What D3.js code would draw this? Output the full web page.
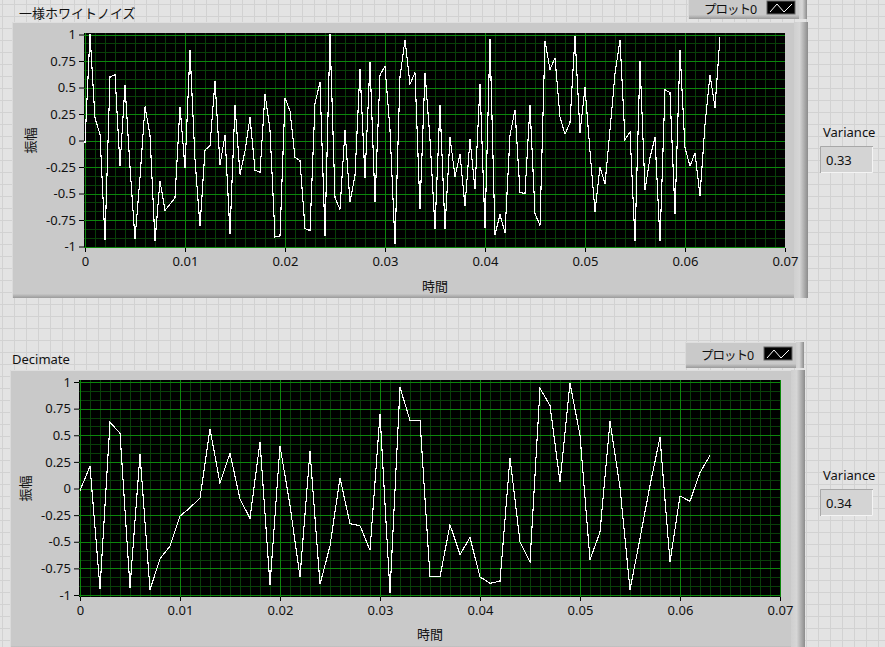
<!DOCTYPE html>
<html><head><meta charset="utf-8">
<script src="https://cdn.jsdelivr.net/npm/d3@7/dist/d3.min.js"></script>
<style>
html,body{margin:0;padding:0;background:#e2e2e2;}
svg{display:block;}
text{font-family:"Noto Sans","Noto Sans CJK JP",sans-serif;}
</style></head>
<body>
<svg id="c" width="885" height="647"></svg>
<script>
// ---- data ----
const noiseTitle = "一様ホワイトノイズ";
const decimTitle = "Decimate";
const legendLabel = "プロット0";
const xAxisTitle = "時間";
const yAxisTitle = "振幅";
const noiseDt = 0.0005;
const decimDt = 0.001;
const noiseValues = [
 -0.02, 1.00, 0.21, 0.06, -0.94, 0.60, 0.62, -0.24, 0.52, -0.25,
 -0.93, -0.35, 0.32, 0.05, -0.95, -0.38, -0.66, -0.60, -0.54, 0.32,
 -0.26, 0.85, -0.18, -0.81, -0.09, -0.05, 0.56, -0.23, 0.05, -0.88,
 0.33, -0.32, -0.10, 0.22, -0.28, -0.30, 0.44, 0.10, -0.91, -0.90,
 0.40, 0.28, -0.16, -0.19, -0.83, -0.85, 0.35, 0.55, -0.90, 1.00,
 -0.54, -0.65, 0.10, -0.58, -0.33, 0.67, -0.35, 0.74, -0.58, 0.62,
 0.70, 0.10, -0.98, 0.60, 0.95, 0.53, 0.64, -0.65, 0.64, 0.01,
 -0.83, 0.33, -0.83, 0.03, -0.34, -0.13, -0.62, 0.01, -0.46, 0.53,
 -0.83, 0.96, -0.89, -0.70, -0.87, 0.05, 0.29, -0.49, -0.50, 0.33,
 -0.69, -0.80, 0.94, 0.67, 0.78, 0.22, 0.06, 0.17, 0.99, 0.07,
 0.50, -0.10, -0.67, -0.25, -0.41, 0.10, 0.63, 0.95, 0.01, 0.08,
 -0.95, 0.75, -0.47, -0.16, 0.03, -0.95, 0.48, 0.45, -0.69, 0.85,
 -0.07, -0.24, -0.12, -0.52, 0.15, 0.62, 0.31, 0.98
];
const decimValues = [
 -0.02, 0.21, -0.94, 0.62, 0.52, -0.93, 0.32, -0.95, -0.66, -0.54,
 -0.26, -0.18, -0.09, 0.56, 0.05, 0.33, -0.10, -0.28, 0.44, -0.91,
 0.40, -0.16, -0.83, 0.35, -0.90, -0.54, 0.10, -0.33, -0.35, -0.58,
 0.70, -0.98, 0.95, 0.64, 0.64, -0.83, -0.83, -0.34, -0.62, -0.46,
 -0.83, -0.89, -0.87, 0.29, -0.50, -0.69, 0.94, 0.78, 0.06, 0.99,
 0.50, -0.67, -0.41, 0.63, 0.01, -0.95, -0.47, 0.03, 0.48, -0.69,
 -0.07, -0.12, 0.15, 0.31
];
const xTicks = [0, 0.01, 0.02, 0.03, 0.04, 0.05, 0.06, 0.07];
const xTickLabels = ["0", "0.01", "0.02", "0.03", "0.04", "0.05", "0.06", "0.07"];
const yTicks = [1, 0.75, 0.5, 0.25, 0, -0.25, -0.5, -0.75, -1];
const yTickLabels = ["1", "0.75", "0.5", "0.25", "0", "-0.25", "-0.5", "-0.75", "-1"];
const varianceLabel = "Variance";
const varianceValues = ["0.33", "0.34"];

// ---- drawing ----
const svg = d3.select("#c");
const defs = svg.append("defs");

// panel background grid
const pat = defs.append("pattern").attr("id","bg").attr("patternUnits","userSpaceOnUse")
  .attr("width",12).attr("height",12).attr("x",2).attr("y",4);
pat.append("rect").attr("width",12).attr("height",12).attr("fill","#e3e3e3");
pat.append("path").attr("d","M0 0.5H12M0.5 0V12").attr("stroke","#d2d2d2").attr("stroke-width",1);
svg.append("rect").attr("width",885).attr("height",647).attr("fill","url(#bg)");

const gR = defs.append("linearGradient").attr("id","gr").attr("x1","0").attr("x2","1").attr("y1","0").attr("y2","0");
gR.append("stop").attr("offset","0").attr("stop-color","#cfcfcf");
gR.append("stop").attr("offset","0.4").attr("stop-color","#d6d6d6");
gR.append("stop").attr("offset","1").attr("stop-color","#8c8c8c");
const gB = defs.append("linearGradient").attr("id","gb").attr("x1","0").attr("x2","0").attr("y1","0").attr("y2","1");
gB.append("stop").attr("offset","0").attr("stop-color","#c6c6c6");
gB.append("stop").attr("offset","1").attr("stop-color","#9a9a9a");

function raisedBox(g, x, y, w, h, band) {
  g.append("rect").attr("x",x).attr("y",y).attr("width",w).attr("height",h).attr("fill","#c9c9c9");
  g.append("rect").attr("x",x).attr("y",y+h-4).attr("width",w).attr("height",4).attr("fill","url(#gb)");
  g.append("rect").attr("x",x+w-band).attr("y",y).attr("width",band).attr("height",h).attr("fill","url(#gr)");
  g.append("line").attr("x1",x).attr("x2",x+w-band).attr("y1",y+0.5).attr("y2",y+0.5).attr("stroke","#dedede");
  g.append("line").attr("x1",x+0.5).attr("x2",x+0.5).attr("y1",y).attr("y2",y+h).attr("stroke","#dadada");
}

function drawGraph(cfg) {
  const g = svg.append("g");
  raisedBox(g, cfg.frame[0], cfg.frame[1], cfg.frame[2], cfg.frame[3], 14);

  const x = d3.scaleLinear().domain([0, 0.07]).range([cfg.x0, cfg.x1]);
  const y = d3.scaleLinear().domain([-1, 1]).range([cfg.yb, cfg.yt]);

  g.append("rect").attr("x",cfg.plot[0]).attr("y",cfg.plot[1]).attr("width",cfg.plot[2]).attr("height",cfg.plot[3]).attr("fill","#000");

  const clipId = "clip" + cfg.id;
  defs.append("clipPath").attr("id",clipId).append("rect")
    .attr("x",cfg.plot[0]).attr("y",cfg.plot[1]).attr("width",cfg.plot[2]).attr("height",cfg.plot[3]);
  const pg = g.append("g").attr("clip-path","url(#"+clipId+")");

  // minor grid
  const xMinor = d3.range(0, 71).map(i => i * 0.001).filter((v,i) => i % 10 !== 0);
  const yMinor = d3.range(0, 25).map(i => -1 + i / 12).filter((v,i) => i % 3 !== 0);
  pg.selectAll(".xm").data(xMinor).join("line")
    .attr("x1",d => Math.round(x(d)) + 0.5).attr("x2",d => Math.round(x(d)) + 0.5)
    .attr("y1",cfg.plot[1]).attr("y2",cfg.plot[1]+cfg.plot[3]).attr("stroke","#093f09");
  pg.selectAll(".ym").data(yMinor).join("line")
    .attr("y1",d => Math.round(y(d)) + 0.5).attr("y2",d => Math.round(y(d)) + 0.5)
    .attr("x1",cfg.plot[0]).attr("x2",cfg.plot[0]+cfg.plot[2]).attr("stroke","#093f09");
  // major grid
  pg.selectAll(".xM").data(xTicks).join("line")
    .attr("x1",d => Math.round(x(d)) + 0.5).attr("x2",d => Math.round(x(d)) + 0.5)
    .attr("y1",cfg.plot[1]).attr("y2",cfg.plot[1]+cfg.plot[3]).attr("stroke","#0c860c");
  pg.selectAll(".yM").data(yTicks).join("line")
    .attr("y1",d => Math.round(y(d)) + 0.5).attr("y2",d => Math.round(y(d)) + 0.5)
    .attr("x1",cfg.plot[0]).attr("x2",cfg.plot[0]+cfg.plot[2]).attr("stroke","#0c860c");

  // data line
  const line = d3.line().x((d,i) => x(i * cfg.dt)).y(d => y(d));
  pg.append("path").datum(cfg.values).attr("d", line)
    .attr("fill","none").attr("stroke","#ffffff").attr("stroke-width",1.1)
    .attr("shape-rendering","crispEdges");

  // axes
  const ax = d3.axisBottom(x).tickValues(xTicks).tickFormat((d,i) => xTickLabels[i]).tickSize(4).tickSizeOuter(0).tickPadding(5);
  const xg = g.append("g").attr("transform","translate(0,"+(cfg.plot[1]+cfg.plot[3])+")").call(ax);
  xg.select(".domain").remove();
  xg.selectAll("line").attr("stroke","#000");
  xg.selectAll("text").attr("font-size",13).attr("fill","#111");

  const ay = d3.axisLeft(y).tickValues(yTicks).tickFormat((d,i) => yTickLabels[i]).tickSize(5).tickSizeOuter(0).tickPadding(3);
  const yg = g.append("g").attr("transform","translate("+cfg.plot[0]+",0)").call(ay);
  yg.select(".domain").remove();
  yg.selectAll("line").attr("stroke","#000");
  yg.selectAll("text").attr("font-size",13).attr("fill","#111");

  g.append("text").attr("x",(cfg.x0+cfg.x1)/2).attr("y",cfg.xTitleY).attr("text-anchor","middle")
    .attr("font-size",13).attr("fill","#111").attr("font-family","Noto Sans CJK JP").text(xAxisTitle);
  g.append("text").attr("transform","translate("+cfg.yTitleX+","+((cfg.yt+cfg.yb)/2)+") rotate(-90)")
    .attr("text-anchor","middle").attr("font-size",13).attr("fill","#111").attr("font-family","Noto Sans CJK JP").text(yAxisTitle);

  // title
  svg.append("text").attr("x",cfg.title[0]).attr("y",cfg.title[1]).attr("font-size",13).attr("fill","#111")
    .attr("font-family",cfg.titleFont).text(cfg.titleText);

  // legend
  const lg = svg.append("g");
  raisedBox(lg, cfg.legend[0], cfg.legend[1], cfg.legend[2], cfg.legend[3], 8);
  lg.append("text").attr("x",cfg.legend[0]+16).attr("y",cfg.legendTextY).attr("font-size",12.5)
    .attr("fill","#111").attr("font-family","Noto Sans CJK JP").attr("letter-spacing","-1").text(legendLabel);
  const ix = cfg.legend[0]+cfg.legend[2]-40, iy = cfg.iconY;
  lg.append("rect").attr("x",ix).attr("y",iy).attr("width",28).attr("height",13).attr("fill","#000").attr("stroke","#666");
  lg.append("polyline").attr("points",[[ix+3,iy+11],[ix+10,iy+3],[ix+17,iy+11],[ix+25,iy+3]].join(" "))
    .attr("fill","none").attr("stroke","#fff");

  // variance indicator
  svg.append("text").attr("x",823).attr("y",cfg.varY).attr("font-size",13).attr("fill","#111").text(varianceLabel);
  const bx = 820, by = cfg.varY + 9;
  svg.append("rect").attr("x",bx).attr("y",by).attr("width",53).attr("height",27).attr("fill","#d4d4d4");
  svg.append("path").attr("d",`M${bx+0.5} ${by+27}V${by+0.5}H${bx+53}`).attr("fill","none").attr("stroke","#a8a8a8");
  svg.append("path").attr("d",`M${bx+1} ${by+26.5}H${bx+52.5}V${by+1}`).attr("fill","none").attr("stroke","#f4f4f4");
  svg.append("text").attr("x",bx+6).attr("y",by+19).attr("font-size",13).attr("fill","#111").text(cfg.variance);
}

drawGraph({id:1, frame:[12,22,796,276], plot:[84,33,701,215], x0:85, x1:785, yt:34.5, yb:246.5,
  dt:noiseDt, values:noiseValues, xTitleY:291, yTitleX:35, title:[19,18], titleText:noiseTitle,
  titleFont:"Noto Sans CJK JP", legend:[688,-3,119,22], legendTextY:14, iconY:1, varY:137, variance:varianceValues[0]});
drawGraph({id:2, frame:[10,370,795,280], plot:[79,380,702,217], x0:80, x1:780, yt:382, yb:595,
  dt:decimDt, values:decimValues, xTitleY:639, yTitleX:30, title:[12,364], titleText:decimTitle,
  titleFont:"Noto Sans", legend:[685,342,119,26], legendTextY:360, iconY:347, varY:480, variance:varianceValues[1]});
</script>
</body></html>
